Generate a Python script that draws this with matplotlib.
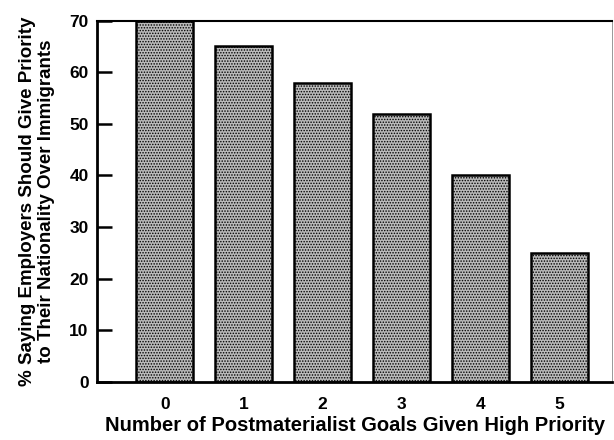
import matplotlib
matplotlib.use("Agg")
import matplotlib.pyplot as plt

plt.rcParams['font.family'] = ['Liberation Sans', 'DejaVu Sans']
plt.rcParams['font.weight'] = 'bold'
plt.rcParams['hatch.color'] = '#444444'
plt.rcParams['hatch.linewidth'] = 0.7

goals = ['0', '1', '2', '3', '4', '5']
pct = [70, 65, 58, 52, 40, 25]

fig = plt.figure(figsize=(6.14, 4.40), dpi=100)
ax = fig.add_axes([0.158, 0.132, 0.839, 0.821])

x = list(range(len(goals)))
ax.bar(x, pct, width=0.72, color='#bababa', edgecolor='black',
       linewidth=1.8, hatch='......', zorder=2)

ax.set_xlim(-0.86, 5.67)
ax.set_ylim(0, 70)
ax.set_yticks(range(0, 71, 10))
ax.set_xticks(x)
ax.set_xticklabels(goals)

ax.tick_params(axis='y', direction='in', length=11, width=1.8, pad=6, labelsize=12.5)
ax.tick_params(axis='x', length=0, pad=11, labelsize=12.5)

ax.spines['left'].set_linewidth(2)
ax.spines['bottom'].set_linewidth(2)
ax.spines['top'].set_linewidth(1.5)
ax.spines['right'].set_linewidth(0.6)
ax.spines['right'].set_color('#888888')

ax.set_xlabel('Number of Postmaterialist Goals Given High Priority',
              fontsize=14.5, fontweight='bold', labelpad=3)
ax.set_ylabel('% Saying Employers Should Give Priority\nto Their Nationality Over Immigrants',
              fontsize=13.5, fontweight='bold', labelpad=10, linespacing=1.15)

fig.savefig('out.png', dpi=100)
